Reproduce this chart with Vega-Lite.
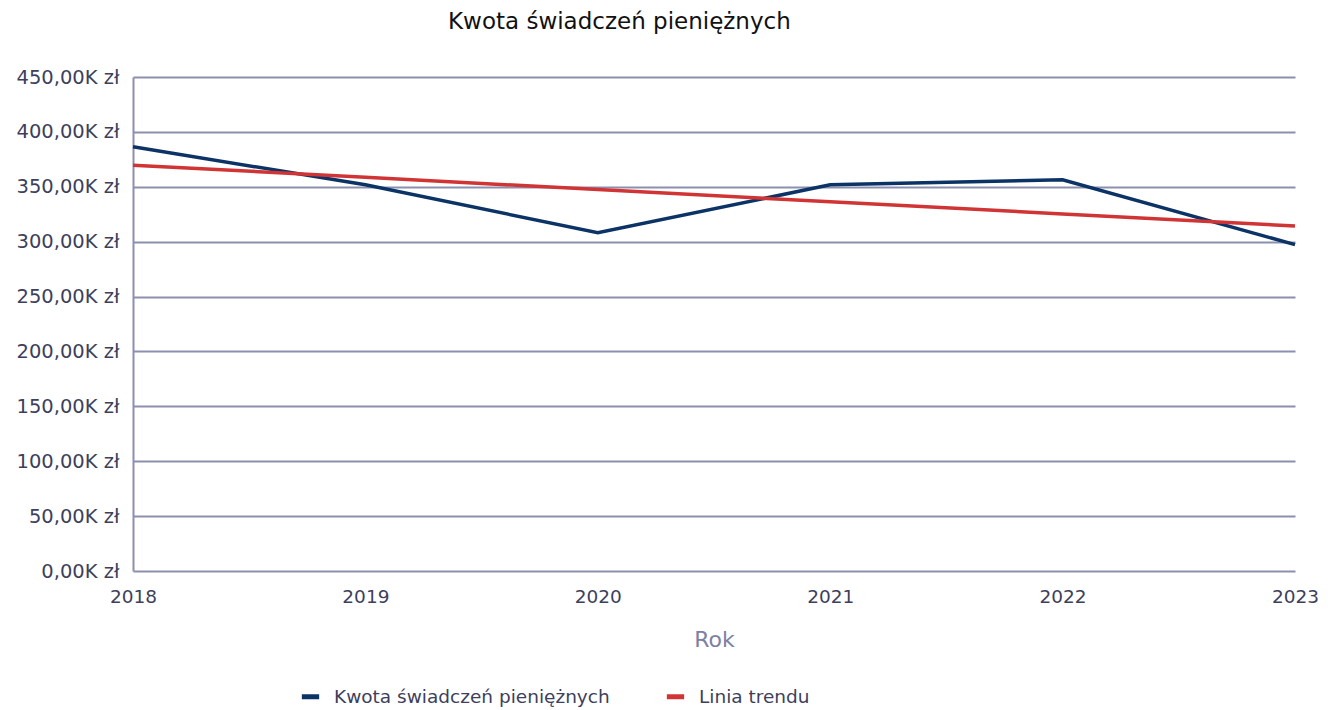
{
  "$schema": "https://vega.github.io/schema/vega-lite/v6.json",
  "autosize": {"type": "none"},
  "padding": {"left": 133, "top": 77, "right": 33, "bottom": 139},
  "width": 1162,
  "height": 494,
  "background": "white",
  "config": {"view": {"stroke": null}},
  "title": {
    "text": "Kwota świadczeń pieniężnych",
    "anchor": "start",
    "dx": 432,
    "offset": 33,
    "font": "DejaVu Sans",
    "fontSize": 23,
    "fontWeight": "normal",
    "color": "#111111"
  },
  "data": {
    "values": [
      {"rok": 2018, "seria": "Kwota świadczeń pieniężnych", "kwota": 386400},
      {"rok": 2019, "seria": "Kwota świadczeń pieniężnych", "kwota": 351800},
      {"rok": 2020, "seria": "Kwota świadczeń pieniężnych", "kwota": 308200},
      {"rok": 2021, "seria": "Kwota świadczeń pieniężnych", "kwota": 351800},
      {"rok": 2022, "seria": "Kwota świadczeń pieniężnych", "kwota": 356400},
      {"rok": 2023, "seria": "Kwota świadczeń pieniężnych", "kwota": 297300},
      {"rok": 2018, "seria": "Linia trendu", "kwota": 369700},
      {"rok": 2019, "seria": "Linia trendu", "kwota": 358600},
      {"rok": 2020, "seria": "Linia trendu", "kwota": 347500},
      {"rok": 2021, "seria": "Linia trendu", "kwota": 336400},
      {"rok": 2022, "seria": "Linia trendu", "kwota": 325300},
      {"rok": 2023, "seria": "Linia trendu", "kwota": 314200}
    ]
  },
  "mark": {"type": "line", "strokeWidth": 3.5, "clip": false},
  "encoding": {
    "x": {
      "field": "rok",
      "type": "quantitative",
      "scale": {"domain": [2018, 2023], "nice": false, "zero": false},
      "axis": {
        "title": "Rok",
        "values": [2018, 2019, 2020, 2021, 2022, 2023],
        "format": "d",
        "grid": false,
        "ticks": false,
        "domain": false,
        "labelPadding": 16,
        "labelFont": "DejaVu Sans",
        "labelFontSize": 18.5,
        "labelColor": "#3d3f5c",
        "labelFlush": false,
        "titleFont": "DejaVu Sans",
        "titleFontSize": 22,
        "titleFontWeight": "normal",
        "titleColor": "#7d80a3",
        "titlePadding": 24
      }
    },
    "y": {
      "field": "kwota",
      "type": "quantitative",
      "scale": {"domain": [0, 450000], "nice": false},
      "axis": {
        "title": null,
        "values": [0, 50000, 100000, 150000, 200000, 250000, 300000, 350000, 400000, 450000],
        "labelExpr": "replace(format(datum.value / 1000, '.2f'), '.', ',') + 'K zł'",
        "grid": true,
        "gridColor": "#8c8fb0",
        "gridWidth": 2,
        "gridOpacity": 1,
        "ticks": false,
        "domain": true,
        "domainColor": "#8c8fb0",
        "domainWidth": 2,
        "labelPadding": 14,
        "labelFont": "DejaVu Sans",
        "labelFontSize": 19.5,
        "labelColor": "#3d3f5c"
      }
    },
    "color": {
      "field": "seria",
      "type": "nominal",
      "scale": {
        "domain": ["Kwota świadczeń pieniężnych", "Linia trendu"],
        "range": ["#0b3366", "#d03434"]
      },
      "legend": {
        "title": null,
        "orient": "none",
        "legendX": 166,
        "legendY": 608,
        "direction": "horizontal",
        "symbolType": "stroke",
        "symbolStrokeWidth": 5,
        "symbolSize": 300,
        "columnPadding": 46,
        "labelLimit": 0,
        "labelFont": "DejaVu Sans",
        "labelFontSize": 18.5,
        "labelColor": "#3d3f5c",
        "labelOffset": 12
      }
    }
  }
}
